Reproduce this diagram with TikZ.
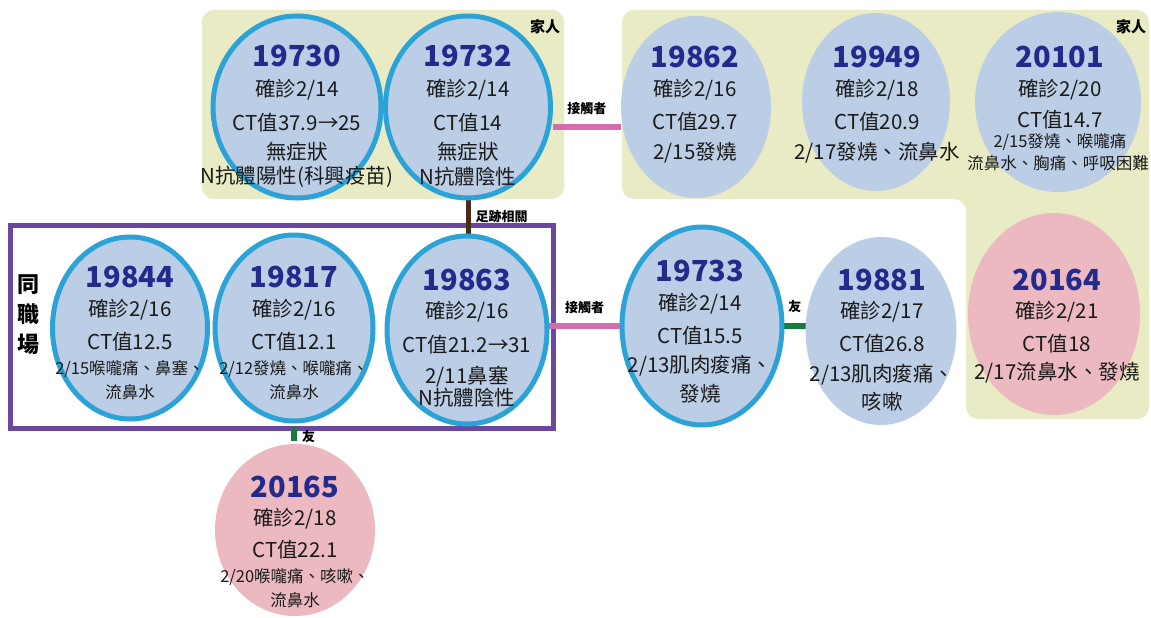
\documentclass[tikz,border=0pt]{standalone}
\usepackage{fontspec}
\setmainfont{Noto Sans CJK TC}
\usetikzlibrary{shapes.geometric,calc}
\pgfdeclarelayer{back}
\pgfdeclarelayer{lines}
\pgfsetlayers{back,lines,main}
\definecolor{bgc}{HTML}{E8EBC3}
\definecolor{fillc}{HTML}{BCCDE6}
\definecolor{ringc}{HTML}{2BA3D6}
\definecolor{pinkc}{HTML}{EBB9BF}
\definecolor{purc}{HTML}{6B479F}
\definecolor{numc}{HTML}{222A8C}
\definecolor{plinec}{HTML}{D36DB0}
\definecolor{brownc}{HTML}{4A2A18}
\definecolor{greenc}{HTML}{1A7A3C}
\definecolor{txtc}{HTML}{1A1A1A}
\tikzset{
  ringed/.style={ellipse, draw=ringc, line width=5pt, fill=fillc, inner sep=0pt},
  plainc/.style={ellipse, fill=fillc, inner sep=0pt},
  pinkcase/.style={ellipse, fill=pinkc, inner sep=0pt},
  num/.style={font=\bfseries\fontsize{29}{29}\selectfont, text=numc, inner sep=0pt},
  body/.style={font=\fontsize{20.5}{20.5}\selectfont, text=txtc, inner sep=0pt},
  small/.style={font=\fontsize{16.5}{16.5}\selectfont, text=txtc, inner sep=0pt},
  lbl/.style={font=\bfseries\fontsize{13}{13}\selectfont, text=black, inner sep=0pt},
  grp/.style={font=\bfseries\fontsize{15}{15}\selectfont, text=black, inner sep=0pt},
  pinkline/.style={draw=plinec, line width=5.5pt},
  brownline/.style={draw=brownc, line width=5pt},
  greenline/.style={draw=greenc, line width=6pt},
}
\begin{document}
\begin{tikzpicture}[x=1pt,y=-1pt]
\useasboundingbox (0,0) rectangle (1151,618);
% backgrounds
\begin{pgfonlayer}{back}
\fill[white] (0,0) rectangle (1151,618);
\fill[bgc, rounded corners=12pt] (202,10) rectangle (564,199);
\fill[bgc, rounded corners=12pt] (622,10) -- (1149,10) -- (1149,419) -- (966,419) -- (966,199) -- (622,199) -- cycle;
\draw[purc, line width=5pt] (10,225) rectangle (553,428);
\end{pgfonlayer}
\node[grp] (fam1) at (545,27) {家人};
\node[grp] (fam2) at (1131,27) {家人};
\node[font=\bfseries\fontsize{22}{30}\selectfont, align=center, inner sep=0pt] (work) at (28,315) {同\\職\\場};
% ellipses
\node[ringed, minimum width=168pt, minimum height=182pt] (c19730) at (297,107) {};
\node[ringed, minimum width=165pt, minimum height=182pt] (c19732) at (468,107) {};
\node[plainc, minimum width=150pt, minimum height=182pt] (c19862) at (696,107) {};
\node[plainc, minimum width=148pt, minimum height=178pt] (c19949) at (876,102) {};
\node[plainc, minimum width=166pt, minimum height=180pt] (c20101) at (1058,102) {};
\node[ringed, minimum width=155pt, minimum height=182pt] (c19844) at (130,328) {};
\node[ringed, minimum width=158pt, minimum height=186pt] (c19817) at (294,328) {};
\node[ringed, minimum width=160pt, minimum height=188pt] (c19863) at (467,330) {};
\node[ringed, minimum width=160pt, minimum height=198pt] (c19733) at (702,326) {};
\node[plainc, minimum width=151pt, minimum height=188pt] (c19881) at (881,331) {};
\node[pinkcase, minimum width=172pt, minimum height=202pt] (c20164) at (1054,314) {};
\node[pinkcase, minimum width=160pt, minimum height=172pt] (c20165) at (295,530) {};
% connectors (behind the ellipses)
\begin{pgfonlayer}{lines}
\path[pinkline] ([yshift=-20pt]c19732.east) -- ([yshift=-20pt]c19862.west) node[lbl, midway, above=10pt] (l1) {接觸者};
\path[brownline] ([yshift=2pt]c19732.south) -- ([yshift=-2pt]c19732.south |- c19863.north) node[lbl, midway, right=5pt] (l2) {足跡相關};
\path[pinkline] ([xshift=-3pt]c19863.east |- c19733.west) -- ([xshift=3pt]c19733.west) node[lbl, midway, above=10pt] (l3) {接觸者};
\path[greenline] ([xshift=-3pt]c19733.east) -- ([xshift=3pt]c19733.east -| c19881.west) node[lbl, midway, above=10pt] (l4) {友};
\path[greenline] ([yshift=-3pt]c19817.south) -- ([yshift=3pt]c19817.south |- c20165.north) node[lbl, pos=0.7, right=5pt] (l5) {友};
\end{pgfonlayer}
% texts 19730
\node[num] at (297,56) {19730};
\node[body] at (297,90) {確診2/14};
\node[body] at (297,123) {CT值37.9→25};
\node[body] at (297,152) {無症狀};
\node[body] at (297,177) {N抗體陽性(科興疫苗)};
% 19732
\node[num] at (468,56) {19732};
\node[body] at (468,90) {確診2/14};
\node[body] at (468,123) {CT值14};
\node[body] at (468,152) {無症狀};
\node[body] at (468,177) {N抗體陰性};
% 19862
\node[num] at (695,57) {19862};
\node[body] at (695,90) {確診2/16};
\node[body] at (695,122) {CT值29.7};
\node[body] at (695,153) {2/15發燒};
% 19949
\node[num] at (877,57) {19949};
\node[body] at (877,90) {確診2/18};
\node[body] at (877,122) {CT值20.9};
\node[body] at (877,153) {2/17發燒、流鼻水};
% 20101
\node[num] at (1060,57) {20101};
\node[body] at (1060,90) {確診2/20};
\node[body] at (1060,120) {CT值14.7};
\node[small] at (1060,142) {2/15發燒、喉嚨痛};
\node[small] at (1058,163) {流鼻水、胸痛、呼吸困難};
% 19844
\node[num] at (130,277) {19844};
\node[body] at (130,310) {確診2/16};
\node[body] at (130,342) {CT值12.5};
\node[small] at (130,369) {2/15喉嚨痛、鼻塞、};
\node[small] at (130,392) {流鼻水};
% 19817
\node[num] at (294,277) {19817};
\node[body] at (294,310) {確診2/16};
\node[body] at (294,342) {CT值12.1};
\node[small] at (294,369) {2/12發燒、喉嚨痛、};
\node[small] at (294,392) {流鼻水};
% 19863
\node[num] at (467,280) {19863};
\node[body] at (467,312) {確診2/16};
\node[body] at (467,345) {CT值21.2→31};
\node[body] at (467,377) {2/11鼻塞};
\node[body] at (467,398) {N抗體陰性};
% 19733
\node[num] at (700,271) {19733};
\node[body] at (700,304) {確診2/14};
\node[body] at (700,336) {CT值15.5};
\node[body] at (700,366) {2/13肌肉痠痛、};
\node[body] at (700,394) {發燒};
% 19881
\node[num] at (882,280) {19881};
\node[body] at (882,312) {確診2/17};
\node[body] at (882,344) {CT值26.8};
\node[body] at (882,375) {2/13肌肉痠痛、};
\node[body] at (882,402) {咳嗽};
% 20164
\node[num] at (1057,280) {20164};
\node[body] at (1057,312) {確診2/21};
\node[body] at (1057,344) {CT值18};
\node[body] at (1057,373) {2/17流鼻水、發燒};
% 20165
\node[num] at (295,487) {20165};
\node[body] at (295,519) {確診2/18};
\node[body] at (295,550) {CT值22.1};
\node[small] at (295,577) {2/20喉嚨痛、咳嗽、};
\node[small] at (295,600) {流鼻水};
\end{tikzpicture}
\end{document}
